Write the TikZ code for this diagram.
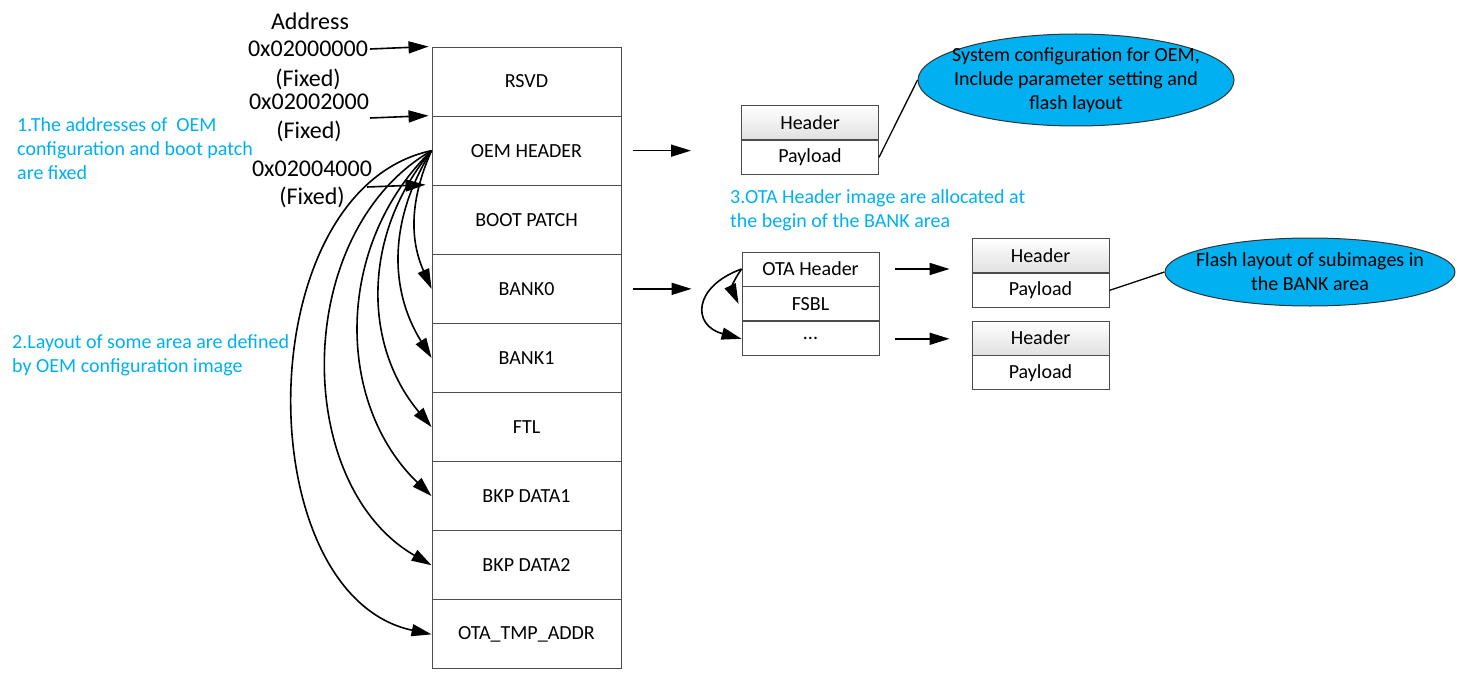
\documentclass[tikz,border=0pt]{standalone}
\usepackage{fontspec}
\setmainfont{Carlito}
\usetikzlibrary{arrows.meta,positioning,shapes.geometric}
\definecolor{skyblue}{RGB}{0,176,240}

\tikzset{
	cell/.style={draw=black!70, line width=0.9pt, minimum width=189pt, minimum height=69.1pt,
		inner sep=0pt, font=\fontsize{20}{24}\selectfont},
	small/.style={draw=black!70, line width=0.9pt, minimum width=137pt, minimum height=34pt,
		inner sep=0pt, font=\fontsize{20}{24}\selectfont},
	hdr/.style={small, top color=white, bottom color=black!12},
	note/.style={ellipse, draw=black!80, line width=1pt, fill=skyblue, inner sep=0pt},
	notetext/.style={align=center, inner sep=0pt, font=\fontsize{20}{24}\selectfont},
	remark/.style={text=skyblue, align=left, anchor=north west, inner sep=0pt,
		font=\fontsize{20}{24}\selectfont},
	addr/.style={align=center, inner sep=0pt, font=\fontsize{24}{29}\selectfont},
	arr/.style={-{Triangle[length=20pt,width=12pt]}, line width=1.6pt},
}

\begin{document}
\begin{tikzpicture}[x=1pt,y=-1pt]
	
	\useasboundingbox (0,0) rectangle (1459,674);
	
	%----------------------
	% Flash map
	%----------------------
	\def\cx{526.5}   % centre of the flash map
	\def\top{47}     % top of RSVD
	\def\rh{69.1}    % height of one area
	
	\foreach \name/\txt [count=\i from 0] in {rsvd/RSVD, oem/OEM HEADER, boot/BOOT PATCH,
		bank0/BANK0, bank1/BANK1, ftl/FTL, bkp1/BKP DATA1, bkp2/BKP DATA2, ota/OTA\_TMP\_ADDR}
	\node[cell] (\name) at (\cx, {\top+\rh*(\i+0.5)}) {\txt};
	
	% Addresses
	\node[addr] (addr) at (310,21) {Address};
	\node[addr] (ad1) at (308,49) {0x02000000};
	\node[addr] (fx1) at (308,79) {(Fixed)};
	\node[addr] (ad2) at (309,102) {0x02002000};
	\node[addr] (fx2) at (309,131) {(Fixed)};
	\node[addr] (ad3) at (312,169) {0x02004000};
	\node[addr] (fx3) at (312,197) {(Fixed)};
	
	\coordinate (a2) at (370,118);
	\coordinate (a3) at (367,187);
	\draw[arr] ([xshift=2pt]ad1.east) -- ([xshift=-3pt]rsvd.north west);
	\draw[arr] (a2) -- ([xshift=-3pt]oem.north west);
	\draw[arr] (a3) -- ([xshift=-6pt]boot.north west);
	
	% OEM HEADER defines the layout of the other areas
	\foreach \name/\b in {bank0/24, bank1/32, ftl/40, bkp1/46, bkp2/60, ota/78}
	\draw[arr] (oem.west) to[bend right=\b] (\name.west);
	
	% Remarks
	\node[remark] (r1) at (17,117) {1.The addresses of\ \ OEM\\configuration and boot patch\\are fixed};
	\node[remark] (r2) at (12,334) {2.Layout of some area are defined\\by OEM configuration image};
	\node[remark] (r3) at (730,189) {3.OTA Header image are allocated at\\the begin of the BANK area};
	
	%----------------------
	% OEM configuration image
	%----------------------
	\node[hdr] (oemh) at (810,122.5) {Header};
	\node[small, below=0pt of oemh] (oemp) {Payload};
	\draw[arr] ([xshift=12pt]oem.east) -- ([xshift=-50pt]oemh.west |- oem.east);
	
	\node[note, minimum width=316pt, minimum height=92pt] (oemnote) at (1076,80) {};
	\node[notetext] at (oemnote) {System configuration for OEM,\\Include parameter setting and\\flash layout};
	\draw[line width=1.3pt] (oemp.east) -- (oemnote.west);
	
	%----------------------
	% BANK area
	%----------------------
	\node[small] (otah) at (810.5,269) {OTA Header};
	\node[small, below=0pt of otah] (fsbl) {FSBL};
	\node[small, below=0pt of fsbl] (more) {...};
	\draw[arr] ([xshift=12pt]bank0.east) -- ([xshift=-50pt]otah.west |- bank0.east);
	
	\draw[arr] (otah.west) to[out=235, in=115, looseness=1.2] ([xshift=-3pt]fsbl.west);
	\draw[arr] (otah.west) to[out=200, in=165, looseness=1.9] (more.west);
	
	\node[hdr] (h2) at (1040.5,255.5) {Header};
	\node[small, below=0pt of h2] (p2) {Payload};
	\node[hdr] (h3) at (1040.5,338) {Header};
	\node[small, below=0pt of h3] (p3) {Payload};
	
	\draw[arr] ([xshift=16pt]otah.east) -- ([xshift=-22pt]h2.west |- otah.east);
	\draw[arr] ([xshift=16pt]more.east) -- ([xshift=-22pt]h3.west |- more.east);
	
	\node[note, minimum width=290pt, minimum height=68pt] (banknote) at (1310,272) {};
	\node[notetext] at (banknote) {Flash layout of subimages in\\the BANK area};
	\draw[line width=1.3pt] (p2.east) -- (banknote.west);
	
\end{tikzpicture}
\end{document}
